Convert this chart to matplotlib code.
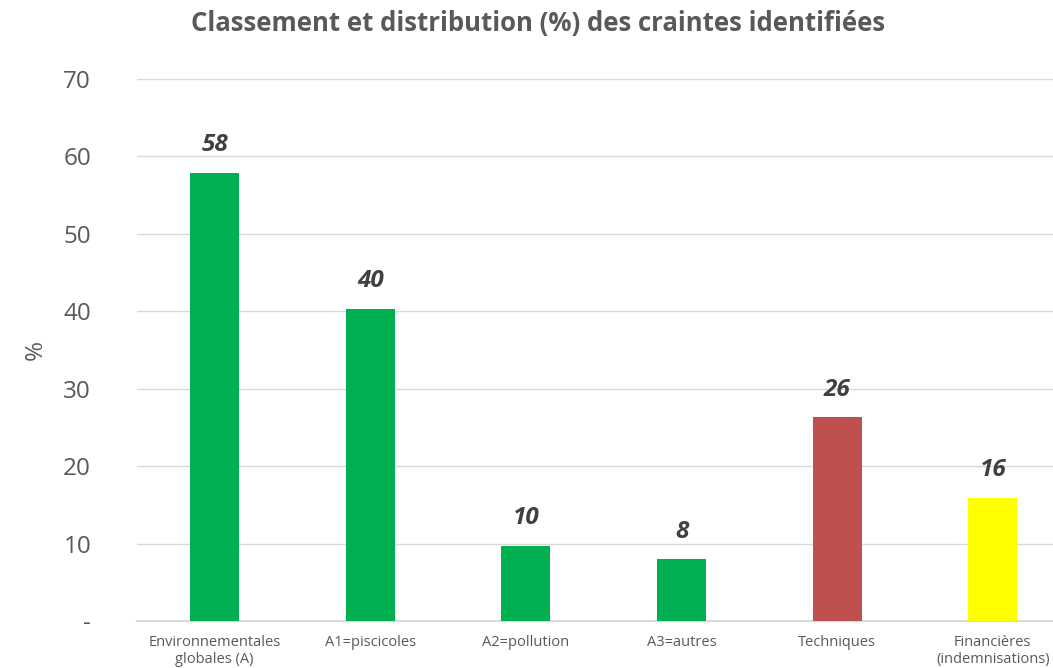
import matplotlib.pyplot as plt
from matplotlib import font_manager

# Données
categories = ['Environnementales\nglobales (A)', 'A1=piscicoles', 'A2=pollution',
              'A3=autres', 'Techniques', 'Financières\n(indemnisations)']
valeurs = [57.9, 40.3, 9.7, 8.0, 26.3, 15.9]
etiquettes = ['58', '40', '10', '8', '26', '16']
couleurs = ['#00B050', '#00B050', '#00B050', '#00B050', '#C0504D', '#FFFF00']
yticks = [0, 10, 20, 30, 40, 50, 60, 70]
ytick_labels = ['-', '10', '20', '30', '40', '50', '60', '70']

gris = '#595959'
noms = {f.name for f in font_manager.fontManager.ttflist}
police_x = 'Liberation Sans Narrow' if 'Liberation Sans Narrow' in noms else 'Open Sans'

fig = plt.figure(figsize=(10.53, 6.68), dpi=100)
ax = fig.add_axes([0.130, 0.0704, 0.870, 0.8113])

x = range(len(categories))
ax.bar(x, valeurs, width=0.315, color=couleurs, zorder=3)

for xi, v, t in zip(x, valeurs, etiquettes):
    ax.text(xi, v + 2.0, t, ha='center', va='bottom', fontsize=17.5,
            fontweight='bold', fontstyle='italic', color='#404040',
            family='Open Sans')

ax.set_xlim(-0.5, 5.387)
ax.set_ylim(0, 70)
ax.set_yticks(yticks)
ax.set_yticklabels(ytick_labels, fontsize=17.5, color=gris, family='Open Sans')
ax.set_xticks(list(x))
ax.set_xticklabels(categories, fontsize=10.5, color=gris, family=police_x)
ax.tick_params(axis='both', length=0)
ax.tick_params(axis='y', pad=33)
ax.tick_params(axis='x', pad=10)

ax.grid(axis='y', color='#D9D9D9', linewidth=1, zorder=0)
for s in ['top', 'right', 'left']:
    ax.spines[s].set_visible(False)
ax.spines['bottom'].set_color('#D9D9D9')
ax.spines['bottom'].set_linewidth(1.5)

ax.set_ylabel('%', fontsize=17.5, color=gris, family='Open Sans', labelpad=11)
fig.text(0.511, 0.965, 'Classement et distribution (%) des craintes identifiées',
         ha='center', va='center', fontsize=18.5, fontweight='bold', color=gris,
         family='Open Sans')

fig.savefig('out.png', dpi=100)
